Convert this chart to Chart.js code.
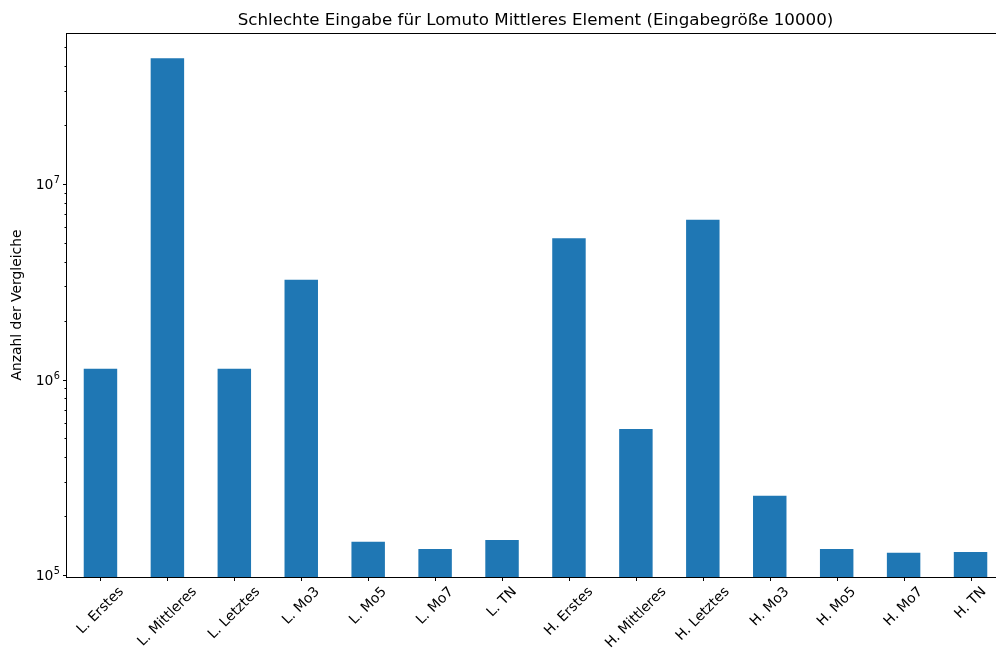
<!DOCTYPE html>
<html>
<head>
<meta charset="utf-8">
<script src="https://cdn.jsdelivr.net/npm/chart.js@4.4.0/dist/chart.umd.min.js"></script>
<style>
  html, body { margin: 0; background: #fff; overflow: hidden; }
  #wrap { width: 996px; height: 655px; overflow: hidden; }
</style>
</head>
<body>
<!-- the axes run a few pixels past the right edge of the visible area -->
<div id="wrap"><canvas id="chart" width="1004" height="655"></canvas></div>
<script>
// Vergleiche je Pivot-Strategie (Lomuto / Hoare)
const labels = [
  'L. Erstes', 'L. Mittleres', 'L. Letztes', 'L. Mo3', 'L. Mo5', 'L. Mo7', 'L. TN',
  'H. Erstes', 'H. Mittleres', 'H. Letztes', 'H. Mo3', 'H. Mo5', 'H. Mo7', 'H. TN'
];
const comparisons = [
  1.134e6, 4.40e7, 1.134e6, 3.24e6, 1.48e5, 1.36e5, 1.51e5,
  5.28e6, 5.58e5, 6.56e6, 2.54e5, 1.36e5, 1.30e5, 1.31e5
];
const yMajorTicks = [1e5, 1e6, 1e7];
const yRange = [9.77e4, 5.92e7];

const title = 'Schlechte Eingabe für Lomuto Mittleres Element (Eingabegröße 10000)';
const yTitle = 'Anzahl der Vergleiche';

const FONT = '"DejaVu Sans", sans-serif';
const BLUE = '#1f77b4';

// minor ticks at 2..9 x 10^n inside the axis range
const yMinorTicks = [];
for (let e = 4; e <= 7; e++) {
  for (let m = 2; m <= 9; m++) {
    const v = m * Math.pow(10, e);
    if (v >= yRange[0] && v <= yRange[1]) yMinorTicks.push(v);
  }
}

const axesPlugin = {
  id: 'mplAxes',
  afterDraw(chart) {
    const { ctx, chartArea: a, scales: { x, y } } = chart;
    ctx.save();
    ctx.strokeStyle = '#000';
    ctx.fillStyle = '#000';
    ctx.lineWidth = 1;

    // frame
    ctx.strokeRect(a.left - 0.5, a.top + 0.5, a.right - a.left, a.bottom - a.top);

    // y ticks
    ctx.beginPath();
    yMajorTicks.forEach(v => {
      const py = Math.round(y.getPixelForValue(v)) + 0.5;
      ctx.moveTo(a.left - 4, py); ctx.lineTo(a.left, py);
    });
    yMinorTicks.forEach(v => {
      const py = Math.round(y.getPixelForValue(v)) + 0.5;
      ctx.moveTo(a.left - 2.5, py); ctx.lineTo(a.left, py);
    });
    // x ticks
    labels.forEach((l, i) => {
      const px = Math.round(x.getPixelForTick(i)) + 0.5;
      ctx.moveTo(px, a.bottom); ctx.lineTo(px, a.bottom + 4);
    });
    ctx.stroke();

    // y tick labels as 10^n
    yMajorTicks.forEach(v => {
      const py = y.getPixelForValue(v);
      const exp = String(Math.round(Math.log10(v)));
      ctx.font = '9.7px ' + FONT;
      const ew = ctx.measureText(exp).width;
      ctx.textAlign = 'right';
      ctx.textBaseline = 'alphabetic';
      const right = a.left - 7;
      ctx.fillText(exp, right, py - 1);
      ctx.font = '13.9px ' + FONT;
      ctx.fillText('10', right - ew - 0.5, py + 5);
    });

    // x tick labels, rotated 45° and centred under each tick
    ctx.font = '13.9px ' + FONT;
    ctx.textAlign = 'center';
    ctx.textBaseline = 'middle';
    const top = a.bottom + 7;
    labels.forEach((l, i) => {
      const px = x.getPixelForTick(i);
      const w = ctx.measureText(l).width;
      const bh = (w + 16) * Math.SQRT1_2;
      ctx.save();
      ctx.translate(px, top + bh / 2);
      ctx.rotate(-Math.PI / 4);
      ctx.fillText(l, 0, 0);
      ctx.restore();
    });

    // axis title
    ctx.save();
    ctx.translate(17, (a.top + a.bottom) / 2);
    ctx.rotate(-Math.PI / 2);
    ctx.fillText(yTitle, 0, 0);
    ctx.restore();

    // chart title
    ctx.font = '16.7px ' + FONT;
    ctx.textBaseline = 'alphabetic';
    ctx.fillText(title, (a.left + a.right) / 2, 25);

    ctx.restore();
  }
};

new Chart(document.getElementById('chart'), {
  type: 'bar',
  data: {
    labels: labels,
    datasets: [{
      data: comparisons,
      backgroundColor: BLUE,
      borderWidth: 0,
      barPercentage: 0.5,
      categoryPercentage: 1.0
    }]
  },
  options: {
    responsive: false,
    animation: false,
    layout: { padding: { top: 33, right: 0, left: 0, bottom: 0 } },
    plugins: {
      legend: { display: false },
      title: { display: false },
      tooltip: { enabled: false }
    },
    scales: {
      x: {
        type: 'category',
        offset: true,
        grid: { display: false },
        border: { display: false },
        ticks: { display: false },
        afterFit(scale) { scale.height = 78; }
      },
      y: {
        type: 'logarithmic',
        min: yRange[0],
        max: yRange[1],
        grid: { display: false },
        border: { display: false },
        ticks: { display: false },
        afterFit(scale) { scale.width = 67; }
      }
    }
  },
  plugins: [axesPlugin]
});
</script>
</body>
</html>
